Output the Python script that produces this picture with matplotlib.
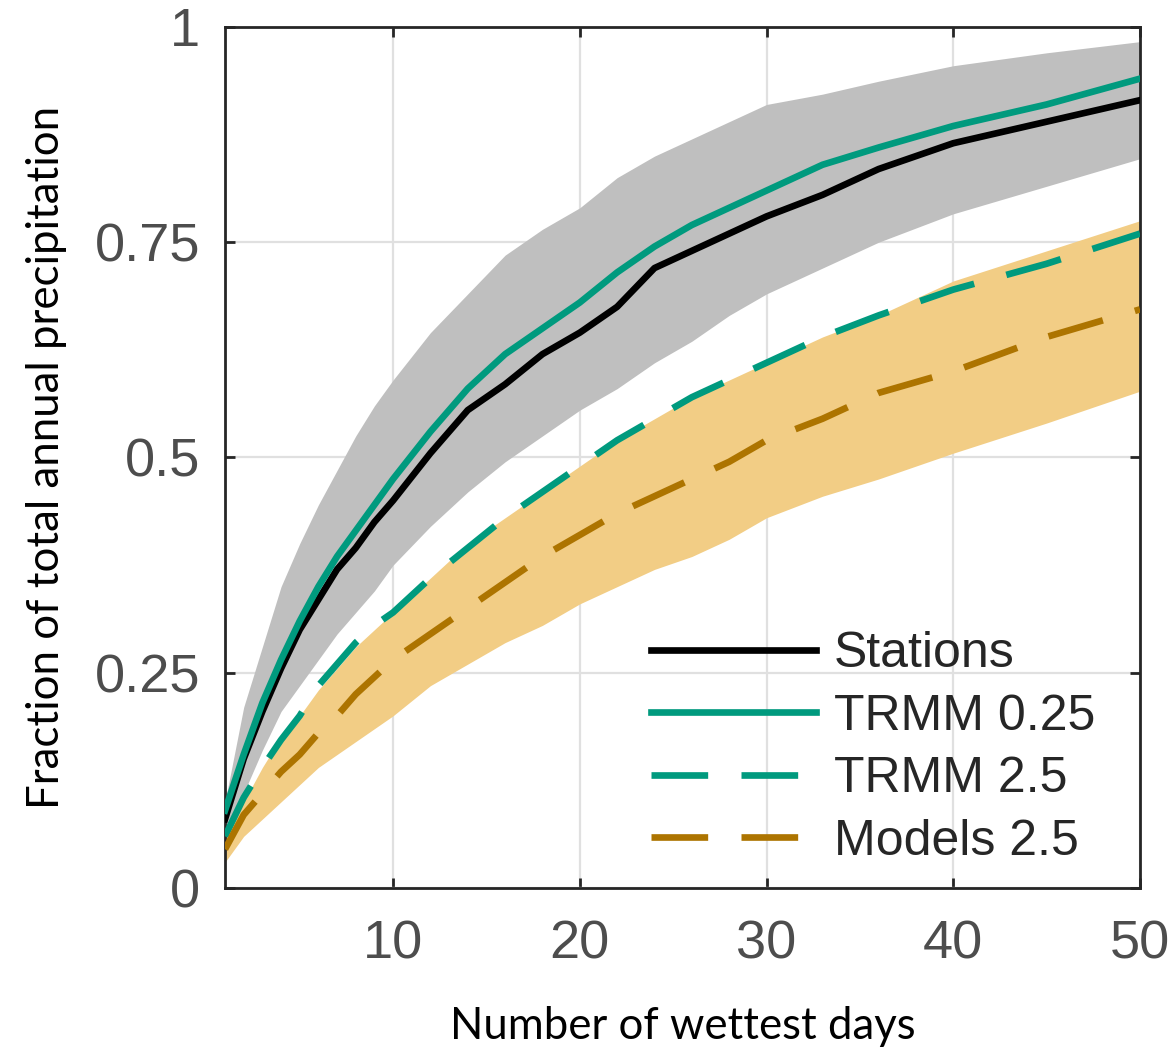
import matplotlib
matplotlib.use('Agg')
import matplotlib.pyplot as plt

# days
days = [1, 2, 3, 4, 5, 6, 7, 8, 9, 10, 12, 14, 16, 18, 20, 22, 24, 26, 28, 30, 33, 36, 40, 45, 50]

stations = [0.08, 0.15, 0.205, 0.255, 0.30, 0.335, 0.37, 0.395, 0.425, 0.45, 0.505, 0.555, 0.585, 0.62, 0.645,
            0.675, 0.72, 0.74, 0.76, 0.78, 0.805, 0.835, 0.865, 0.89, 0.915]
stations_hi = [0.10, 0.21, 0.28, 0.35, 0.40, 0.445, 0.485, 0.525, 0.56, 0.59, 0.645, 0.69, 0.735, 0.765, 0.79,
               0.825, 0.85, 0.87, 0.89, 0.91, 0.922, 0.937, 0.955, 0.97, 0.983]
stations_lo = [0.055, 0.11, 0.16, 0.205, 0.235, 0.265, 0.295, 0.32, 0.345, 0.375, 0.42, 0.46, 0.495, 0.525, 0.555,
               0.58, 0.61, 0.635, 0.665, 0.69, 0.72, 0.75, 0.783, 0.815, 0.847]
trmm025 = [0.09, 0.155, 0.215, 0.265, 0.31, 0.35, 0.385, 0.415, 0.445, 0.475, 0.53, 0.58, 0.62, 0.65, 0.68,
           0.715, 0.745, 0.77, 0.79, 0.81, 0.84, 0.86, 0.885, 0.91, 0.94]
trmm25 = [0.06, 0.105, 0.14, 0.172, 0.20, 0.235, 0.26, 0.285, 0.305, 0.32, 0.36, 0.395, 0.43, 0.46, 0.49,
          0.52, 0.545, 0.57, 0.59, 0.61, 0.64, 0.665, 0.695, 0.725, 0.76]
models = [0.045, 0.085, 0.11, 0.135, 0.155, 0.18, 0.20, 0.225, 0.245, 0.265, 0.295, 0.325, 0.355, 0.385, 0.41,
          0.435, 0.455, 0.475, 0.495, 0.52, 0.545, 0.575, 0.60, 0.64, 0.672]
models_hi = [0.055, 0.10, 0.14, 0.175, 0.20, 0.23, 0.255, 0.28, 0.30, 0.32, 0.36, 0.40, 0.43, 0.46, 0.49,
             0.52, 0.545, 0.57, 0.59, 0.61, 0.64, 0.665, 0.705, 0.74, 0.775]
models_lo = [0.03, 0.06, 0.08, 0.10, 0.12, 0.14, 0.155, 0.17, 0.185, 0.20, 0.235, 0.26, 0.285, 0.305, 0.33,
             0.35, 0.37, 0.385, 0.405, 0.43, 0.455, 0.475, 0.505, 0.54, 0.577]

yticks = [0, 0.25, 0.5, 0.75, 1]
ytick_labels = ['0', '0.25', '0.5', '0.75', '1']
xticks = [10, 20, 30, 40, 50]

green = '#009a7e'
brown = '#ad7400'

fig = plt.figure(figsize=(11.72, 10.58), dpi=100)
ax = fig.add_axes([0.192, 0.1607, 0.7807, 0.8138])

ax.fill_between(days, stations_lo, stations_hi, color='#bfbfbf', lw=0)
ax.fill_between(days, models_lo, models_hi, color='#f2cd85', lw=0)

lw = 4.8
ax.plot(days, stations, color='black', lw=lw, label='Stations', zorder=4)
ax.plot(days, trmm025, color=green, lw=lw, label='TRMM 0.25', zorder=4)
ax.plot(days, trmm25, color=green, lw=lw, ls=(0, (8.5, 5)), label='TRMM 2.5', zorder=3)
ax.plot(days, models, color=brown, lw=lw, ls=(0, (8.5, 5)), label='Models 2.5', zorder=3)

ax.set_xlim(1, 50)
ax.set_ylim(0, 1)
ax.set_xticks(xticks)
ax.set_yticks(yticks)
ax.set_yticklabels(ytick_labels)
ax.grid(True, color='#e0e0e0', lw=1.6)
ax.set_axisbelow(True)

for s in ax.spines.values():
    s.set_linewidth(2)
    s.set_color('#262626')

ax.tick_params(direction='in', length=7, width=2, color='#262626', top=True, right=True,
               labelcolor='#4d4d4d', labelsize=39)
ax.tick_params(axis='x', pad=23)
ax.tick_params(axis='y', pad=18)
for t in ax.get_xticklabels() + ax.get_yticklabels():
    t.set_family('Liberation Sans')

ax.set_xlabel('Number of wettest days', fontsize=31.5, family='Lato', labelpad=26)
ax.set_ylabel('Fraction of total annual precipitation', fontsize=31.5, family='Lato', labelpad=20)

leg = ax.legend(loc='lower right', bbox_to_anchor=(1.0, -0.025), frameon=False,
                prop={'family': 'Liberation Sans', 'size': 36}, handlelength=3.3,
                handletextpad=0.35, labelspacing=0.33)
for t in leg.get_texts():
    t.set_color('#262626')

fig.savefig('out.png', dpi=100)
